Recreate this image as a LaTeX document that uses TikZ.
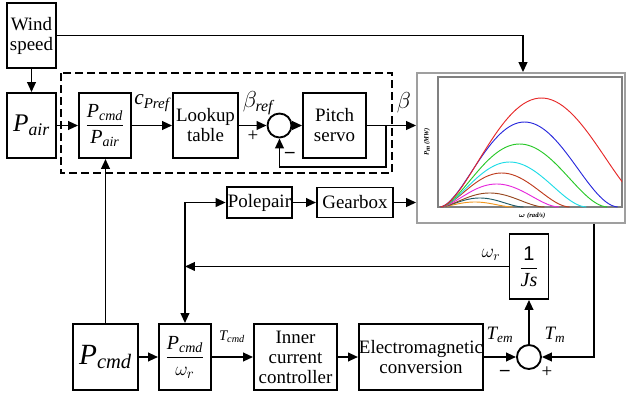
\documentclass[tikz,border=0pt]{standalone}
\usepackage{amsmath}
\usepackage{fontspec}
\setmainfont{Liberation Serif}
\setsansfont{Liberation Sans}
\usetikzlibrary{arrows.meta}

\newcommand{\vi}[1]{\text{\itshape #1}}
\definecolor{cvred}{RGB}{230,40,40}
\definecolor{cvblue}{RGB}{40,40,220}
\definecolor{cvgreen}{RGB}{40,200,40}
\definecolor{cvcyan}{RGB}{30,220,230}
\definecolor{cvbrown}{RGB}{190,60,30}
\definecolor{cvmag}{RGB}{230,40,220}
\definecolor{cvdbrown}{RGB}{150,70,30}
\definecolor{cvteal}{RGB}{30,90,100}
\definecolor{cvorange}{RGB}{240,150,30}

\tikzset{
  block/.style={draw, line width=1.4pt, align=center, inner sep=1pt, font=\fontsize{14.2}{15}\selectfont},
  sumpoint/.style={draw, circle, line width=1.4pt, minimum size=18pt, inner sep=0pt},
  sig/.style={line width=1.4pt, -{Triangle[length=7.5pt,width=6.5pt]}},
  wire/.style={line width=1.4pt},
  tag/.style={inner sep=0pt, font=\fontsize{14.2}{15}\selectfont},
  group box/.style={line width=1.4pt, dash pattern=on 6pt off 3pt},
}

\begin{document}
\begin{tikzpicture}[x=0.75pt, y=-0.75pt, node distance=2cm]
\useasboundingbox (0,0) rectangle (626,397);

% pitch control row
\node (pair)[block, minimum width=36.75pt, minimum height=48.75pt, font=\fontsize{19}{19}\selectfont] at (31.5,125.5) {$\vi{P}_{\vi{air}}$};
\node (wind)[block, minimum width=36.75pt, minimum height=48.75pt] [above of=pair, node distance=67.5pt] {Wind\\speed};
\node (ratioa)[block, minimum width=39pt, minimum height=48.75pt, font=\fontsize{15}{15}\selectfont] [right of=pair, node distance=55.125pt] {$\displaystyle\frac{\vi{P}_{\vi{cmd}}}{\vi{P}_{\vi{air}}}$};
\node (lookup)[block, minimum width=48.75pt, minimum height=48.75pt] [right of=ratioa, node distance=75.375pt] {Lookup\\table};
\node (suma)[sumpoint] [right of=lookup, node distance=55.5pt] {};
\node (pitch)[block, minimum width=47.25pt, minimum height=48.75pt] [right of=suma, node distance=41.25pt] {Pitch\\servo};
\draw[group box] (61,73) rectangle (392,173);

% power curves
\node (plot)[draw=gray!75, line width=1.3pt, minimum width=156pt, minimum height=112.5pt] at (521,148) {};
\draw[gray, line width=0.8pt] (438,77) rectangle (622,207);
\begin{scope}
\clip (438,77) rectangle (622,207);
\foreach \wpk/\hgt/\clr in {35/5/cvorange, 40/9/cvteal, 50/14/cvdbrown, 57/23/cvmag, 62/34/cvbrown, 70/45/cvcyan, 80/63/cvgreen, 85/85/cvblue, 102/109/cvred}
  \draw[\clr, line width=0.7pt] plot[domain=0.5:{2.09*\wpk}, samples=60] (440+\x, {207-\hgt*pow(\x/\wpk,1.8)*((2.1-\x/\wpk)/1.1)^2});
\end{scope}
\node (ylab)[rotate=90, font=\bfseries\itshape\fontsize{5}{5}\selectfont] at (427,142) {P\textsubscript{m} (MW)};
\node (xlab)[font=\boldmath\bfseries\itshape\fontsize{5}{5}\selectfont] at (532,216) {$\omega$ (rad/s)};

% drive train
\node (polepair)[block, minimum width=48.75pt, minimum height=23.25pt] at (259.5,202.5) {Polepair};
\node (gearbox)[block, minimum width=57pt, minimum height=22.5pt] [right of=polepair, node distance=71.6pt] {Gearbox};

% torque control row
\node (pcmd)[block, minimum width=48.75pt, minimum height=49.5pt, font=\fontsize{22}{22}\selectfont] at (105.5,357) {$\vi{P}_{\vi{cmd}}$};
\node (ratiob)[block, minimum width=39pt, minimum height=49.5pt, font=\fontsize{15}{15}\selectfont] [right of=pcmd, node distance=59.6pt] {$\displaystyle\frac{\vi{P}_{\vi{cmd}}}{\omega_r}$};
\node (inner)[block, minimum width=62.25pt, minimum height=49.5pt] [right of=ratiob, node distance=82.9pt] {Inner\\current\\controller};
\node (emc)[block, minimum width=93pt, minimum height=49.5pt, inner xsep=0pt] [right of=inner, node distance=94.1pt] {Electromagnetic\\conversion};
\node (sumb)[sumpoint] [right of=emc, node distance=81pt] {};
\node (js)[block, minimum width=29.25pt, minimum height=48.75pt, font=\fontsize{15}{15}\selectfont] [above of=sumb, node distance=67.9pt] {$\displaystyle\frac{\textsf{1}}{\vi{Js}}$};

% labels
\node (lcp)[tag, font=\fontsize{16}{16}\selectfont] at (152,103) {$\vi{c}_{\vi{Pref}}$};
\node (lbr)[tag, font=\fontsize{17}{17}\selectfont] at (258,103) {$\beta_{\vi{ref}}$};
\node (lpla)[tag] at (253,136) {+};
\node (lmia)[tag] at (290,155) {\textbf{–}};
\node (lbeta)[tag, font=\fontsize{19}{19}\selectfont] at (404,103) {$\beta$};
\node (ltc)[tag, font=\fontsize{11}{11}\selectfont] at (232,337) {$\vi{T}_{\vi{cmd}}$};
\node (lw)[tag] at (491,255) {$\omega_r$};
\node (ltem)[tag] at (500,335) {$\vi{T}_{\vi{em}}$};
\node (ltm)[tag] at (555,335) {$\vi{T}_{\vi{m}}$};
\node (lmib)[tag] at (505,373) {\textbf{–}};
\node (lplb)[tag] at (547,372) {+};

% connectors
\coordinate (fb) at (386,125.5);
\coordinate (jn) at (ratiob.north |- js.west);
\draw[sig] (wind.south) -- (pair.north);
\draw[sig] (wind.east) -| ([xshift=1.5pt]plot.north);
\draw[sig] (pair.east) -- (ratioa.west);
\draw[sig] (ratioa.east) -- (lookup.west);
\draw[sig] (lookup.east) -- (suma.west);
\draw[sig] (suma.east) -- (pitch.west);
\draw[sig] (pitch.east) -- (pitch.east -| plot.west);
\draw[sig] (fb) -- ++(0,41.5) -| (suma.south);
\draw[sig] (pcmd.north) -- (pcmd.north |- ratioa.south);
\draw[sig] (jn) |- (polepair.west);
\draw[sig] (polepair.east) -- (gearbox.west);
\draw[sig] (gearbox.east) -- (gearbox.east -| plot.west);
\draw[sig] (js.west) -- (jn);
\draw[sig] (jn) -- (ratiob.north);
\draw[sig] (pcmd.east) -- (ratiob.west);
\draw[sig] (ratiob.east) -- (inner.west);
\draw[sig] (inner.east) -- (emc.west);
\draw[sig] (emc.east) -- (sumb.west);
\draw[sig] (sumb.north) -- (js.south);
\draw[sig] ([xshift=54.75pt]plot.south) |- (sumb.east);
\end{tikzpicture}
\end{document}
